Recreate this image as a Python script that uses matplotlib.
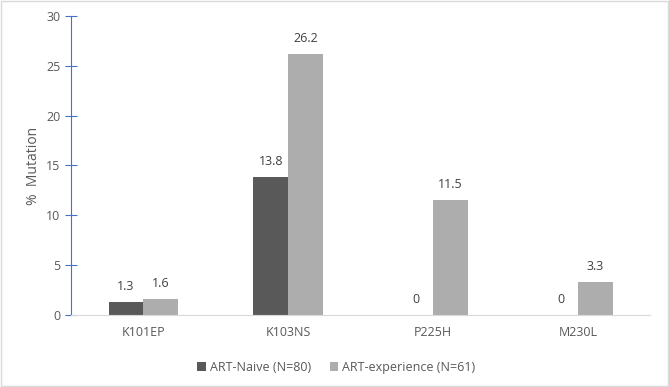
import numpy as np
from matplotlib import pyplot as plt

categories = ['K101EP', 'K103NS', 'P225H', 'M230L']
naive = [1.3, 13.8, 0, 0]
experience = [1.6, 26.2, 11.5, 3.3]
series_names = ['ART-Naive (N=80)', 'ART-experience (N=61)']

plt.rcParams['font.family'] = ['Open Sans', 'DejaVu Sans']
text_col = '#595959'

fig = plt.figure(figsize=(6.69, 3.87), dpi=100)
fig.patches.append(plt.Rectangle((0.001, 0.002), 0.997, 0.996, transform=fig.transFigure,
                                 fill=False, edgecolor='#d9d9d9', linewidth=1))
ax = fig.add_axes([0.106, 0.186, 0.866, 0.773])

x = np.arange(len(categories))
w = 0.24
b1 = ax.bar(x - w / 2, naive, w, color='#595959', label=series_names[0])
b2 = ax.bar(x + w / 2, experience, w, color='#adadad', label=series_names[1])

for bars in (b1, b2):
    for r in bars:
        h = r.get_height()
        ax.text(r.get_x() + r.get_width() / 2, h + 0.9, '%g' % h, ha='center', va='bottom',
                fontsize=9, color='#404040')

ax.set_xlim(-0.5, 3.5)
ax.set_ylim(0, 30)
ax.set_yticks(range(0, 31, 5))
ax.set_xticks(x)
ax.set_xticklabels(categories)
ax.set_ylabel('%  Mutation', fontsize=10, color=text_col)

for s in ['top', 'right']:
    ax.spines[s].set_visible(False)
ax.spines['left'].set_color('#4472c4')
ax.spines['bottom'].set_color('#d9d9d9')
ax.tick_params(axis='y', direction='inout', length=8, color='#4472c4', labelsize=9, labelcolor=text_col)
ax.tick_params(axis='x', length=0, labelsize=9, labelcolor=text_col, pad=8)

ax.legend(loc='upper center', bbox_to_anchor=(0.458, -0.115), ncol=2, frameon=False,
          fontsize=9, labelcolor=text_col, handlelength=0.7, handleheight=0.7, handletextpad=0.3,
          columnspacing=1.5)

fig.savefig('out.png', dpi=100)
